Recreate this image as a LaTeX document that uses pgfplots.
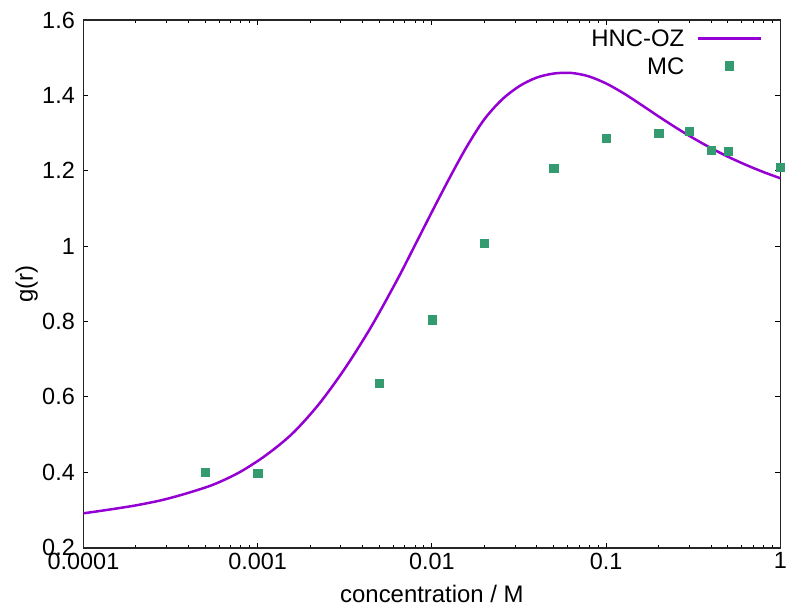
\documentclass[border=0pt]{standalone}
\usepackage{pgfplots}
\pgfplotsset{compat=1.18}
\usepackage{fontspec}
\setmainfont{Liberation Sans}

\definecolor{hnccol}{RGB}{148,0,211}
\definecolor{mccol}{RGB}{52,154,112}

\pgfplotsset{
    linelegend/.style={legend image code/.code={\draw[##1] (0bp,0bp) -- (63bp,0bp);}},
    marklegend/.style={legend image code/.code={\draw[mark repeat=2,mark phase=2,##1]
        plot coordinates {(0bp,0bp) (31.5bp,0bp) (63bp,0bp)};}},
}

\begin{document}
\begin{tikzpicture}
\useasboundingbox (-83.5bp,-64.4bp) rectangle (703.5bp,547.6bp);
\begin{semilogxaxis}[
    scale only axis,
    width=696.9bp,
    height=527.6bp,
    xmin=1e-4, xmax=1,
    ymin=0.2, ymax=1.6,
    xtick={1e-4,1e-3,1e-2,1e-1,1},
    xticklabels={0.0001,0.001,0.01,0.1,1},
    ytick={0.2,0.4,0.6,0.8,1,1.2,1.4,1.6},
    yticklabels={0.2,0.4,0.6,0.8,1,1.2,1.4,1.6},
    minor ytick={},
    tick align=inside,
    major tick length=5bp,
    minor tick length=3bp,
    every tick/.style={black, line width=1bp},
    axis line style={black!85, line width=1.8bp},
    ticklabel style={font=\fontsize{23.5}{26}\selectfont, inner sep=0pt},
    xticklabel style={yshift=-5bp},
    yticklabel style={xshift=-8.5bp},
    xlabel={concentration / M},
    ylabel={g(r)},
    label style={font=\fontsize{24}{28}\selectfont, inner sep=0pt},
    xlabel style={at={(axis description cs:0.5,0)}, anchor=north, yshift=-37bp},
    ylabel style={at={(axis description cs:-0.0815,0.5)}, anchor=center},
    legend plot pos=right,
    legend cell align=right,
    legend style={
        at={(axis description cs:0.9736,0.982)}, anchor=north east,
        draw=none, fill=none, inner sep=0pt,
        font=\fontsize{24}{28}\selectfont,
        nodes={inner sep=0pt, text height=17.2bp, text depth=0pt},
        column sep=12bp, row sep=10.3bp,
    },
]
% HNC-OZ curve
\addplot[hnccol, line width=2.5bp, smooth, linelegend]
    coordinates {
    (0.0001,0.291) (0.0001413,0.301) (0.0001995,0.312) (0.0002818,0.326)
    (0.0003981,0.345) (0.0005623,0.368) (0.0007943,0.401) (0.001122,0.446)
    (0.001585,0.503) (0.002239,0.580) (0.003162,0.675) (0.004467,0.785)
    (0.006310,0.910) (0.007943,1.000) (0.01,1.091) (0.01259,1.180)
    (0.01585,1.264) (0.01995,1.336) (0.02512,1.388) (0.03162,1.424)
    (0.03981,1.447) (0.05012,1.458) (0.06310,1.4595) (0.07943,1.4505)
    (0.1,1.4315) (0.1259,1.4055) (0.1585,1.3755) (0.1995,1.3445)
    (0.2512,1.3145) (0.3162,1.2865) (0.3981,1.2605) (0.5012,1.237)
    (0.6310,1.216) (0.7943,1.197) (1,1.180)
};
\addlegendentry{HNC-OZ}
% MC points
\addplot[only marks, mark=square*, mark size=4.2bp,
    mark options={fill=mccol, draw=mccol}, marklegend]
    coordinates {
    (0.0005,0.400) (0.001,0.397) (0.005,0.636) (0.01,0.805)
    (0.02,1.007) (0.05,1.206) (0.1,1.286) (0.2,1.299)
    (0.3,1.305) (0.4,1.255) (0.5,1.252) (1,1.210)
};
\addlegendentry{MC}
\end{semilogxaxis}
\end{tikzpicture}
\end{document}
